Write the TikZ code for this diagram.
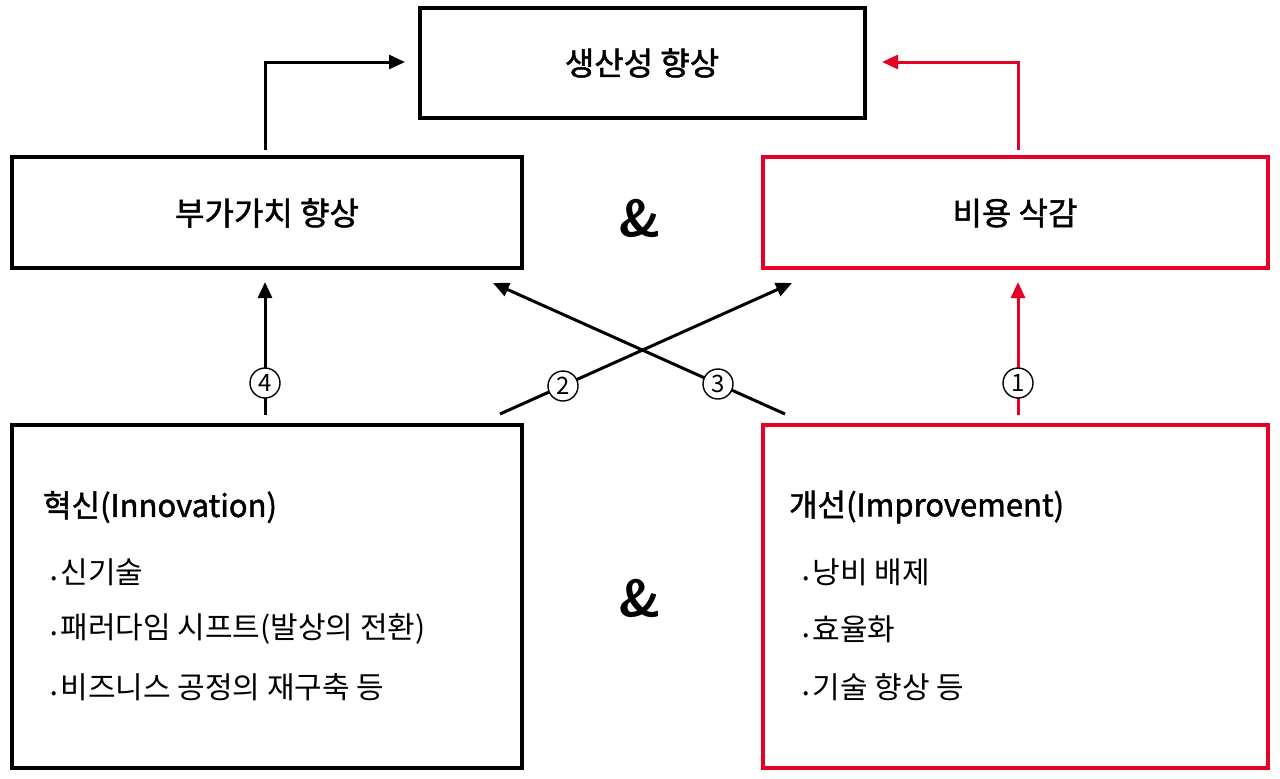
\documentclass[tikz,border=0pt]{standalone}
\usepackage{fontspec}
\setmainfont{Noto Sans CJK KR}
\newfontfamily\krbold{Noto Sans CJK KR}[FakeBold=1.5]
\usetikzlibrary{arrows.meta,positioning}
\definecolor{myred}{HTML}{E60026}
\newcommand{\bul}{{\fontsize{8}{8}\selectfont •}\hspace{2pt}}
\tikzset{
 x=0.5pt,y=-0.5pt,
 box/.style={draw=black,line width=2.3pt,inner sep=0pt},
 rbox/.style={draw=myred,line width=2.3pt,inner sep=0pt},
 ttl/.style={font=\krbold\fontsize{16}{19}\selectfont},
 conn/.style={line width=1.5pt,-{Triangle[length=8pt,width=7pt]}},
 num/.style={circle,draw,line width=0.7pt,fill=white,inner sep=0pt,minimum size=15pt,font=\fontsize{12}{12}\selectfont},
 amp/.style={font=\sffamily\bfseries\fontsize{26}{26}\selectfont},
 body/.style={anchor=west,font=\fontsize{15}{17}\selectfont},
}
\begin{document}
\begin{tikzpicture}
\useasboundingbox (0,0) rectangle (1280,778);
\fill[white] (0,0) rectangle (1280,778);
\draw[box] (420,8) rectangle (865,118);
\node[ttl] (top) at (642,63) {생산성 향상};
\draw[box] (12,157) rectangle (522,268);
\node[ttl] (va) at (267,213) {부가가치 향상};
\draw[rbox] (763,157) rectangle (1268,268);
\node[ttl] (cc) at (1015,213) {비용 삭감};
\draw[box] (12,425) rectangle (522,768);
\draw[rbox] (763,425) rectangle (1268,768);
\node[amp] (a1) at (640,218) {\&};
\node[amp] (a2) at (640,598) {\&};
\node[body,font=\krbold\fontsize{15.5}{17}\selectfont] (inn) at (36,507) {혁신(Innovation)};
\node[body] (i1) at (44,572) {\bul 신기술};
\node[body] (i2) at (44,629) {\bul 패러다임 시프트(발상의 전환)};
\node[body] (i3) at (44,687) {\bul 비즈니스 공정의 재구축 등};
\node[body,font=\krbold\fontsize{15.5}{17}\selectfont] (imp) at (782,507) {개선(Improvement)};
\node[body] (m1) at (796,572) {\bul 낭비 배제};
\node[body] (m2) at (796,629) {\bul 효율화};
\node[body] (m3) at (796,687) {\bul 기술 향상 등};
% connectors
\coordinate (l0) at (265,150); \coordinate (l1) at (405,62);
\draw[conn] (l0) |- (l1);
\coordinate (r0) at (1018,150); \coordinate (r1) at (882,62);
\draw[conn,color=myred] (r0) |- (r1);
\coordinate (s4) at (265,415); \coordinate (e4) at (265,282);
\draw[conn] (s4) -- (e4);
\coordinate (s1) at (1018,415); \coordinate (e1) at (1018,282);
\draw[conn,color=myred] (s1) -- (e1);
\coordinate (s2) at (500,414); \coordinate (e2) at (792,283);
\draw[conn] (s2) -- (e2);
\coordinate (s3) at (785,414); \coordinate (e3) at (493,283);
\draw[conn] (s3) -- (e3);
\node[num] (n4) at (265,383) {4};
\node[num] (n1) at (1018,383) {1};
\node[num] (n2) at (563,386) {2};
\node[num] (n3) at (718,384) {3};
\end{tikzpicture}
\end{document}
